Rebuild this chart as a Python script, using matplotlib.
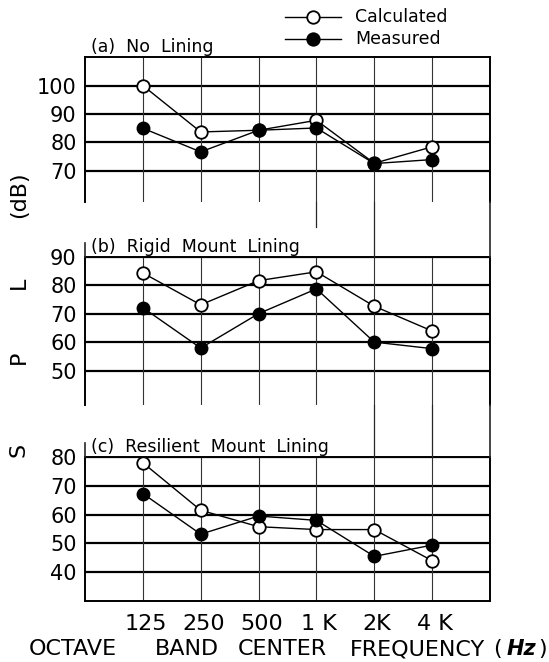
import matplotlib
matplotlib.use("Agg")
from matplotlib import pyplot as plt
from matplotlib.lines import Line2D
import numpy as np

plt.rcParams["font.family"] = "DejaVu Sans"

freqs = ["125", "250", "500", "1 K", "2K", "4 K"]

# (a) No Lining
calc_a = [100, 83.7, 84.3, 87.8, 72.7, 78.5]
meas_a = [85, 76.7, 84.3, 85.1, 72.6, 74]
# (b) Rigid Mount Lining
calc_b = [84.4, 73.2, 81.7, 84.8, 72.7, 64]
meas_b = [72.2, 58, 70.1, 78.8, 60.1, 57.8]
# (c) Resilient Mount Lining
calc_c = [78, 61.5, 55.8, 54.8, 54.8, 44]
meas_c = [67.3, 53.2, 59.5, 58, 45.5, 49.4]

W, H = 549, 662
fig = plt.figure(figsize=(W / 100, H / 100), dpi=100)


def fx(px):
    return px / W


def fy(py):
    return 1 - py / H


def fig_line(x0, y0, x1, y1, lw=0.9, color="0.15"):
    fig.add_artist(Line2D([fx(x0), fx(x1)], [fy(y0), fy(y1)], lw=lw, color=color,
                          transform=fig.transFigure))


left, right = 85, 490
panels = [
    # top px, bottom px, ylim, yticks, title, calc, meas, bottom spine
    (56.5, 202, (59.1, 110.2), [70, 80, 90, 100], "(a)  No  Lining", calc_a, meas_a, False),
    (257, 405, (38, 90), [50, 60, 70, 80, 90], "(b)  Rigid  Mount  Lining", calc_b, meas_b, False),
    (457, 601, (30, 80), [40, 50, 60, 70, 80], "(c)  Resilient  Mount  Lining", calc_c, meas_c, True),
]

x = np.arange(1, len(freqs) + 1)
axes = []
for top, bot, ylim, yticks, title, calc, meas, has_bottom in panels:
    ax = fig.add_axes([fx(left), fy(bot), fx(right) - fx(left), (bot - top) / H])
    ax.set_xlim(0, 7)
    ax.set_ylim(*ylim)
    for yt in yticks:
        ax.axhline(yt, color="black", lw=1.6, zorder=1)
    for xv in x:
        ax.axvline(xv, color="0.2", lw=0.8, zorder=1)
    ax.plot(x, calc, "-o", color="black", lw=1.0, ms=9, mfc="white", mec="black",
            mew=1.3, zorder=3)
    ax.plot(x, meas, "-o", color="black", lw=1.0, ms=9, mfc="black", mec="black",
            zorder=4)
    ax.set_yticks(yticks)
    ax.set_yticklabels([str(t) for t in yticks], fontsize=15)
    ax.tick_params(axis="y", length=0, pad=6)
    ax.spines["bottom"].set_visible(has_bottom)
    for s in ["top", "left", "right", "bottom"]:
        ax.spines[s].set_linewidth(1.4)
    if has_bottom:
        ax.set_xticks(x + 0.05)
        ax.set_xticklabels(freqs, fontsize=16)
        ax.tick_params(axis="x", length=0, pad=9)
    else:
        ax.set_xticks([])
    ax.annotate(title, xy=(0, 1), xycoords="axes fraction", xytext=(4.5, 3.5),
                textcoords="offset points", fontsize=12.5, va="baseline", ha="left")
    axes.append(ax)

# extra lines joining panels, as in the pasted-up original
step = (right - left) / 7
fig_line(left + 4 * step, 202, left + 4 * step, 227)
fig_line(left + 5 * step, 202, left + 5 * step, 257)
fig_line(right, 202, right, 257, lw=1.2)
fig_line(left, 243, left, 257, lw=1.2)
fig_line(left + 5 * step, 405, left + 5 * step, 457)
fig_line(left + 6 * step, 405, left + 6 * step, 457)
fig_line(right, 405, right, 457, lw=1.2)
fig_line(left, 443, left, 457, lw=1.2)

# legend
for yy, face, name in [(17, "white", "Calculated"), (39, "black", "Measured")]:
    fig_line(285, yy, 341, yy, lw=1.0, color="black")
    fig.add_artist(Line2D([fx(313)], [fy(yy)], marker="o", ms=9, mfc=face, mec="black",
                          mew=1.3, transform=fig.transFigure))
    fig.text(fx(355), fy(yy), name, fontsize=12.5, va="center", ha="left")

# y label, letters spread down the side
for yy, s in [(195, "(dB)"), (283, "L"), (357, "P"), (450, "S")]:
    fig.text(fx(19), fy(yy), s, fontsize=16, rotation=90, va="center", ha="center")

# x label
for xx, s, kw in [(73, "OCTAVE", {}), (187, "BAND", {}), (282, "CENTER", {}),
                  (418, "FREQUENCY", {}), (497, "(", {}),
                  (521, "Hz", {"fontweight": "bold", "fontstyle": "italic", "fontsize": 15}),
                  (543, ")", {})]:
    opts = {"fontsize": 16}
    opts.update(kw)
    fig.text(fx(xx), fy(655), s, va="baseline", ha="center", **opts)

fig.savefig("out.png", dpi=100)
